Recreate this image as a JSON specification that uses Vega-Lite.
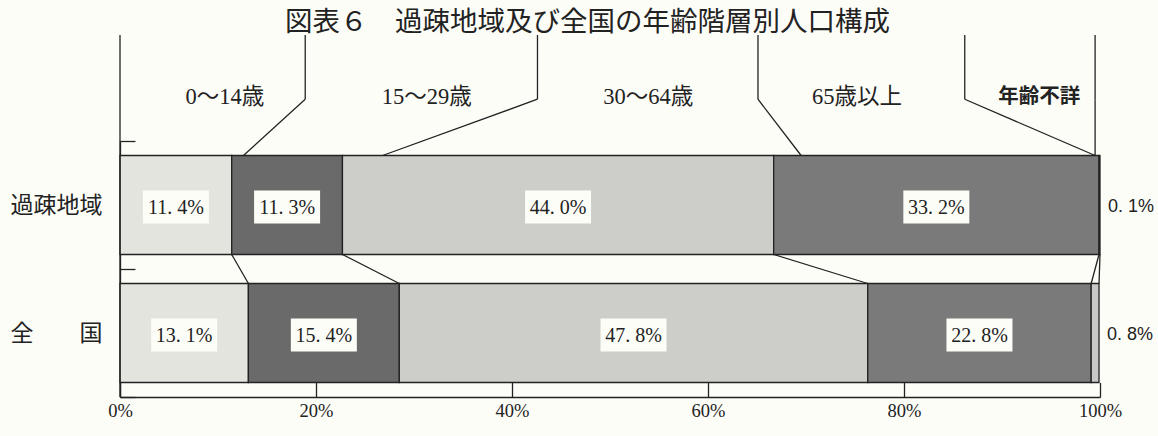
{
  "$schema": "https://vega.github.io/schema/vega-lite/v6.json",
  "width": 980,
  "height": 362,
  "autosize": {"type": "none"},
  "padding": {"left": 120, "top": 35, "right": 58, "bottom": 39},
  "background": "#fdfdf8",
  "title": {
    "text": "図表６　過疎地域及び全国の年齢階層別人口構成",
    "anchor": "start",
    "frame": "group",
    "dx": 165,
    "dy": 43,
    "offset": 3,
    "baseline": "bottom",
    "font": "Noto Sans CJK JP",
    "fontSize": 27.5,
    "fontWeight": "normal",
    "color": "#222222"
  },
  "config": {
    "view": {"stroke": null},
    "axis": {"grid": false, "domainColor": "#222222", "tickColor": "#222222", "labelColor": "#222222", "domainWidth": 1.3, "tickWidth": 1.3, "title": null},
    "axisX": {"tickSize": -14.5, "labelPadding": 19, "labelFlush": false, "labelFont": "Liberation Serif", "labelFontSize": 18.5},
    "axisY": {"tickBand": "extent", "tickSize": -15, "labelPadding": 33, "labelFont": "Noto Sans CJK JP", "labelFontSize": 23}
  },
  "datasets": {
    "pop": [
      {"region": "過疎地域", "age": "0〜14歳", "ord": 1, "value": 11.4},
      {"region": "過疎地域", "age": "15〜29歳", "ord": 2, "value": 11.3},
      {"region": "過疎地域", "age": "30〜64歳", "ord": 3, "value": 44.0},
      {"region": "過疎地域", "age": "65歳以上", "ord": 4, "value": 33.2},
      {"region": "過疎地域", "age": "年齢不詳", "ord": 5, "value": 0.1},
      {"region": "全国", "age": "0〜14歳", "ord": 1, "value": 13.1},
      {"region": "全国", "age": "15〜29歳", "ord": 2, "value": 15.4},
      {"region": "全国", "age": "30〜64歳", "ord": 3, "value": 47.8},
      {"region": "全国", "age": "65歳以上", "ord": 4, "value": 22.8},
      {"region": "全国", "age": "年齢不詳", "ord": 5, "value": 0.8}
    ],
    "header": [
      {"label": "0〜14歳", "lx": 10.7, "vx": 18.9, "px": 12.6},
      {"label": "15〜29歳", "lx": 31.3, "vx": 42.6, "px": 26.8},
      {"label": "30〜64歳", "lx": 53.9, "vx": 65.1, "px": 69.5},
      {"label": "65歳以上", "lx": 75.2, "vx": 86.2, "px": 99.5},
      {"label": "年齢不詳", "lx": 93.8, "vx": 99.5, "px": 99.5}
    ]
  },
  "layer": [
    {
      "data": {"name": "pop"},
      "transform": [
        {"stack": "value", "groupby": ["region"], "sort": [{"field": "ord"}], "as": ["x0", "x1"]},
        {"calculate": "(datum.x0 + datum.x1) / 2", "as": "mid"},
        {"calculate": "replace(format(datum.value, '.1f'), '.', '. ') + '%'", "as": "label"}
      ],
      "layer": [
        {
          "mark": {"type": "bar", "height": 99, "stroke": "#222222", "strokeWidth": 1.3},
          "encoding": {
            "x": {"field": "x0", "type": "quantitative", "scale": {"domain": [0, 100], "nice": false},
              "axis": {"values": [0, 20, 40, 60, 80, 100], "labelExpr": "datum.value + '%'", "title": null}},
            "x2": {"field": "x1"},
            "y": {"field": "region", "type": "nominal",
              "scale": {"domain": ["過疎地域", "全国"], "range": [106, 362], "paddingInner": 0, "paddingOuter": 0},
              "axis": {"title": null, "labelExpr": "datum.label == '全国' ? '全　　国' : datum.label"}},
            "color": {"field": "age", "type": "nominal", "legend": null,
              "scale": {"domain": ["0〜14歳", "15〜29歳", "30〜64歳", "65歳以上", "年齢不詳"], "range": ["#e4e4de", "#6a6a6a", "#cdcdc9", "#7a7a7a", "#c8c8c8"]}}
          }
        },
        {
          "transform": [{"filter": "datum.value > 5"}],
          "mark": {"type": "point", "shape": "M-1,-0.5H1V0.5H-1Z", "size": 4356, "filled": true, "opacity": 1, "fill": "#fdfdf8", "strokeWidth": 0, "yOffset": 2},
          "encoding": {
            "x": {"field": "mid", "type": "quantitative", "scale": {"domain": [0, 100], "nice": false}, "axis": {"title": null}},
            "y": {"field": "region", "type": "nominal", "axis": {"title": null}}
          }
        },
        {
          "transform": [{"filter": "datum.value > 5"}],
          "mark": {"type": "text", "font": "Liberation Serif", "fontSize": 20, "color": "#222222", "baseline": "middle", "dy": 3},
          "encoding": {
            "x": {"field": "mid", "type": "quantitative", "scale": {"domain": [0, 100], "nice": false}, "axis": {"title": null}},
            "y": {"field": "region", "type": "nominal", "axis": {"title": null}},
            "text": {"field": "label"}
          }
        },
        {
          "transform": [{"filter": "datum.age == '年齢不詳'"}],
          "mark": {"type": "text", "font": "Liberation Sans", "fontSize": 18, "color": "#222222", "align": "left", "baseline": "middle", "dx": 8, "dy": 2},
          "encoding": {
            "x": {"field": "x1", "type": "quantitative", "scale": {"domain": [0, 100], "nice": false}, "axis": {"title": null}},
            "y": {"field": "region", "type": "nominal", "axis": {"title": null}},
            "text": {"field": "label"}
          }
        },
        {
          "transform": [{"pivot": "region", "value": "x1", "groupby": ["age"]}],
          "mark": {"type": "rule", "color": "#222222", "strokeWidth": 1.3, "yOffset": 49.5, "y2Offset": -49.5},
          "encoding": {
            "x": {"field": "過疎地域", "type": "quantitative", "scale": {"domain": [0, 100], "nice": false}, "axis": {"title": null}},
            "x2": {"field": "全国"},
            "y": {"datum": "過疎地域", "type": "nominal", "axis": {"title": null}},
            "y2": {"datum": "全国"}
          }
        }
      ]
    },
    {
      "data": {"values": [{}]},
      "mark": {"type": "rule", "color": "#222222", "strokeWidth": 1.3},
      "encoding": {
        "x": {"datum": 0, "type": "quantitative", "scale": {"domain": [0, 100], "nice": false}, "axis": {"title": null}}
      }
    },
    {
      "data": {"name": "header"},
      "layer": [
        {
          "mark": {"type": "rule", "color": "#222222", "strokeWidth": 1.3},
          "encoding": {
            "x": {"field": "vx", "type": "quantitative", "scale": {"domain": [0, 100], "nice": false}, "axis": {"title": null}},
            "y": {"datum": 0, "type": "quantitative", "scale": {"domain": [0, 1], "range": [0, 120.5]}, "axis": null},
            "y2": {"datum": 0.533}
          }
        },
        {
          "mark": {"type": "rule", "color": "#222222", "strokeWidth": 1.3},
          "encoding": {
            "x": {"field": "vx", "type": "quantitative", "scale": {"domain": [0, 100], "nice": false}, "axis": {"title": null}},
            "x2": {"field": "px"},
            "y": {"datum": 0.533, "type": "quantitative", "axis": null},
            "y2": {"datum": 1}
          }
        },
        {
          "transform": [{"filter": "datum.label != '年齢不詳'"}],
          "mark": {"type": "text", "font": "Liberation Serif, Noto Sans CJK JP", "fontSize": 22.5, "color": "#222222", "baseline": "middle"},
          "encoding": {
            "x": {"field": "lx", "type": "quantitative", "scale": {"domain": [0, 100], "nice": false}, "axis": {"title": null}},
            "y": {"datum": 0.517, "type": "quantitative", "axis": null},
            "text": {"field": "label"}
          }
        },
        {
          "transform": [{"filter": "datum.label == '年齢不詳'"}],
          "mark": {"type": "text", "font": "Noto Sans CJK JP", "fontSize": 20.5, "fontWeight": "bold", "color": "#222222", "baseline": "middle"},
          "encoding": {
            "x": {"field": "lx", "type": "quantitative", "scale": {"domain": [0, 100], "nice": false}, "axis": {"title": null}},
            "y": {"datum": 0.517, "type": "quantitative", "axis": null},
            "text": {"field": "label"}
          }
        }
      ]
    }
  ],
  "resolve": {"scale": {"y": "independent"}}
}
